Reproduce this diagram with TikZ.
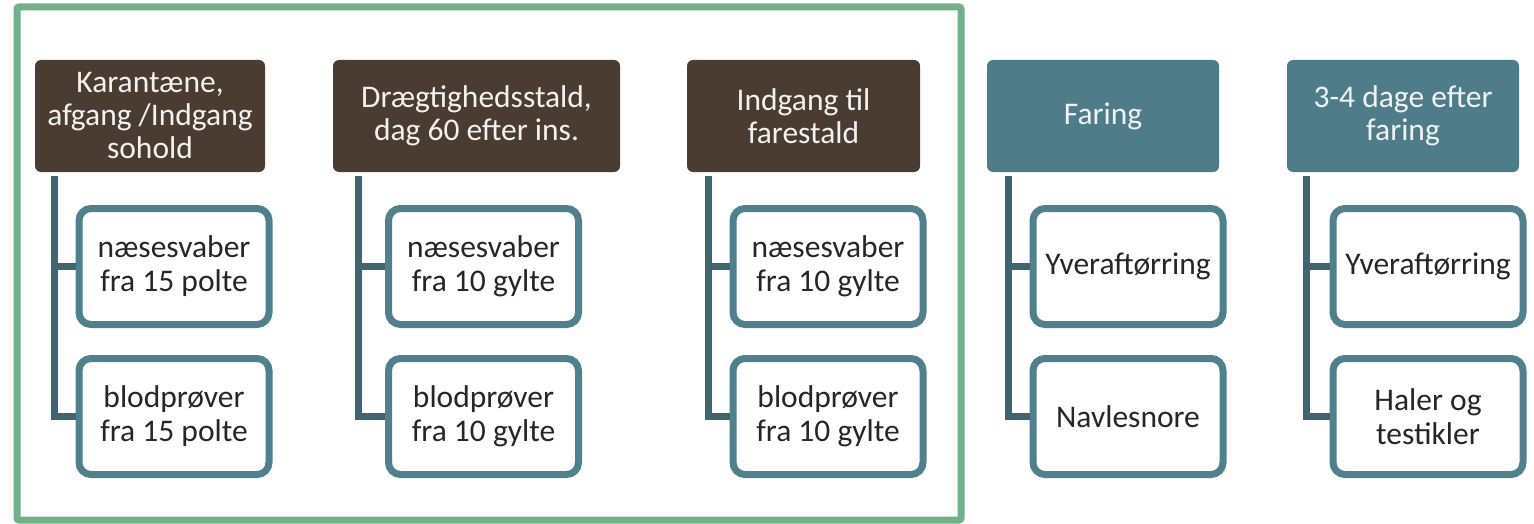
\documentclass[tikz,border=0pt]{standalone}
\usepackage{fontspec}
\setmainfont{Carlito}
\usepackage{tikz}

\definecolor{hdbrown}{HTML}{4A3C30}
\definecolor{hdteal}{HTML}{4E7D89}
\definecolor{boxteal}{HTML}{4F808C}
\definecolor{trunkteal}{HTML}{3F6670}
\definecolor{framegreen}{HTML}{72B08A}
\definecolor{txtdark}{HTML}{262626}

\begin{document}
\begin{tikzpicture}[x=1pt, y=-1pt,
  header/.style={rounded corners=6pt, inner sep=0pt, minimum height=112pt,
    align=center, text=white!95!black, font=\fontsize{31.5}{33}\selectfont},
  brownhead/.style={header, fill=hdbrown},
  tealhead/.style={header, fill=hdteal},
  leaf/.style={draw=boxteal, line width=7pt, fill=white, rounded corners=12pt,
    inner sep=0pt, minimum width=190pt, minimum height=116pt, align=center,
    text=txtdark, font=\fontsize{31.5}{34}\selectfont},
  trunk/.style={draw=trunkteal, line width=7pt}]
  \useasboundingbox (0,0) rectangle (1534,524);

  % green frame round the first three columns
  \draw[framegreen, line width=7pt, rounded corners=2pt] (17,7) rectangle (961,520);

  % headers
  \node[brownhead, minimum width=230pt] (k1) at (150,116) {Karant\ae ne,\\afgang /Indgang\\sohold};
  \node[brownhead, minimum width=287pt] (k2) at (476.5,116) {Dr\ae gtighedsstald,\\dag 60 efter ins.};
  \node[brownhead, minimum width=233pt] (k3) at (803.5,116) {Indgang til\\farestald};
  \node[tealhead, minimum width=232pt] (k4) at (1103,116) {Faring};
  \node[tealhead, minimum width=232pt] (k5) at (1403,116) {3-4 dage efter\\faring};

  % leaves
  \node[leaf] (k1a) at (174,266.5) {n\ae sesvaber\\fra 15 polte};
  \node[leaf] (k1b) at (174,416.5) {blodpr\o ver\\fra 15 polte};
  \node[leaf] (k2a) at (483.5,266.5) {n\ae sesvaber\\fra 10 gylte};
  \node[leaf] (k2b) at (483.5,416.5) {blodpr\o ver\\fra 10 gylte};
  \node[leaf] (k3a) at (828,266.5) {n\ae sesvaber\\fra 10 gylte};
  \node[leaf] (k3b) at (828,416.5) {blodpr\o ver\\fra 10 gylte};
  \node[leaf] (k4a) at (1128,266.5) {Yveraft\o rring};
  \node[leaf] (k4b) at (1128,416.5) {Navlesnore};
  \node[leaf] (k5a) at (1428,266.5) {Yveraft\o rring};
  \node[leaf] (k5b) at (1428,416.5) {Haler og\\testikler};

  % connectors
  \path[trunk] ([xshift=20pt,yshift=-4pt]k1.south west) |- (k1a.west);
  \path[trunk] ([xshift=20pt,yshift=-4pt]k1.south west) |- (k1b.west);
  \path[trunk] ([xshift=26pt,yshift=-4pt]k2.south west) |- (k2a.west);
  \path[trunk] ([xshift=26pt,yshift=-4pt]k2.south west) |- (k2b.west);
  \path[trunk] ([xshift=22pt,yshift=-4pt]k3.south west) |- (k3a.west);
  \path[trunk] ([xshift=22pt,yshift=-4pt]k3.south west) |- (k3b.west);
  \path[trunk] ([xshift=22pt,yshift=-4pt]k4.south west) |- (k4a.west);
  \path[trunk] ([xshift=22pt,yshift=-4pt]k4.south west) |- (k4b.west);
  \path[trunk] ([xshift=20pt,yshift=-4pt]k5.south west) |- (k5a.west);
  \path[trunk] ([xshift=20pt,yshift=-4pt]k5.south west) |- (k5b.west);
\end{tikzpicture}
\end{document}
